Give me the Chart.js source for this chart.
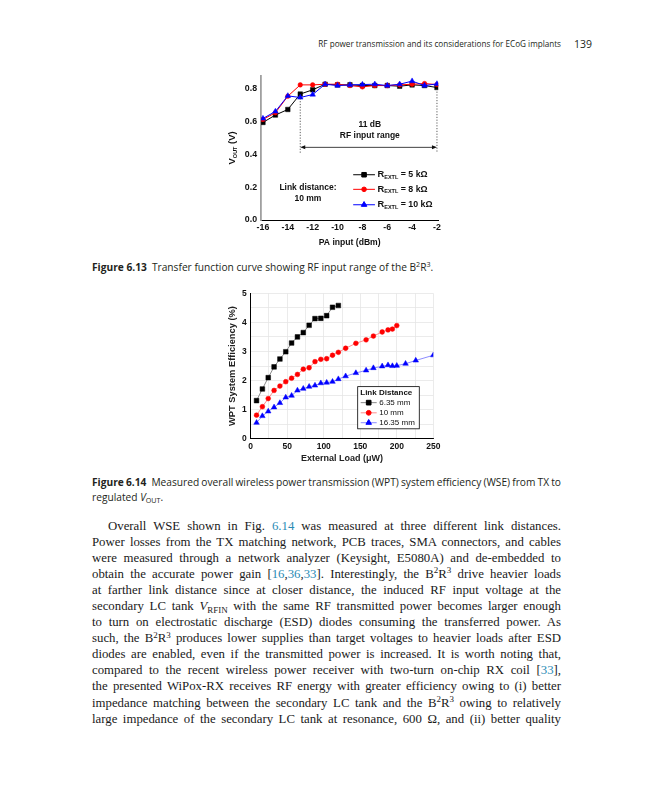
<!DOCTYPE html>
<html>
<head>
<meta charset="utf-8">
<title>Figures 6.13 and 6.14</title>
<script src="https://cdn.jsdelivr.net/npm/chart.js@4.4.1/dist/chart.umd.min.js"></script>
<style>
  html, body { margin: 0; padding: 0; background: #fff; }
  body { width: 648px; height: 800px; position: relative; overflow: hidden; color: #231f20; }
  canvas { position: absolute; }
  #c1 { left: 205px; top: 66px; }
  #c2 { left: 205px; top: 282px; }
  .sans { font-family: "Open Sans", sans-serif; }
  #hdrTitle { position: absolute; right: 87px; top: 37px; font-size: 10px; line-height: 14px; white-space: nowrap; }
  #pg { position: absolute; right: 56px; top: 37px; font-size: 10.5px; line-height: 14px; }
  .cap { position: absolute; left: 92px; font-size: 10px; line-height: 15px; white-space: nowrap; }
  .cap b { font-weight: 700; }
  #body { position: absolute; left: 92px; top: 517.7px; width: 469px; font-family: "Liberation Serif", serif; font-size: 12.8px; line-height: 16.08px; color: #1a1a1a; }
  .ln { white-space: nowrap; height: 16.08px; }
  .ln.first { padding-left: 16px; }
  .ref { color: #2a8bb5; }
  sup, sub { font-size: 70%; vertical-align: baseline; position: relative; line-height: 0; }
  sup { top: -0.5em; }
  sub { top: 0.3em; }
</style>
</head>
<body>
<div id="hdrTitle" class="sans">RF power transmission and its considerations for ECoG implants</div>
<div id="pg" class="sans">139</div>

<canvas id="c1" width="245" height="190"></canvas>
<div class="cap sans" id="cap13" style="top:259.5px"><b>Figure 6.13</b>&ensp;Transfer function curve showing RF input range of the B<sup>2</sup>R<sup>3</sup>.</div>

<canvas id="c2" width="245" height="185"></canvas>
<div class="cap sans" id="cap14a" style="top:474.5px"><b>Figure 6.14</b>&ensp;Measured overall wireless power transmission (WPT) system efficiency (WSE) from TX to</div>
<div class="cap sans" id="cap14b" style="top:489.5px">regulated <i>V</i><sub>OUT</sub>.</div>

<div id="body">
  <div class="ln first"><span class="t">Overall WSE shown in Fig. <span class="ref">6.14</span> was measured at three different link distances.</span></div>
  <div class="ln"><span class="t">Power losses from the TX matching network, PCB traces, SMA connectors, and cables</span></div>
  <div class="ln"><span class="t">were measured through a network analyzer (Keysight, E5080A) and de-embedded to</span></div>
  <div class="ln"><span class="t">obtain the accurate power gain [<span class="ref">16</span>,<span class="ref">36</span>,<span class="ref">33</span>]. Interestingly, the B<sup>2</sup>R<sup>3</sup> drive heavier loads</span></div>
  <div class="ln"><span class="t">at farther link distance since at closer distance, the induced RF input voltage at the</span></div>
  <div class="ln"><span class="t">secondary LC tank <i>V</i><sub>RFIN</sub> with the same RF transmitted power becomes larger enough</span></div>
  <div class="ln"><span class="t">to turn on electrostatic discharge (ESD) diodes consuming the transferred power. As</span></div>
  <div class="ln"><span class="t">such, the B<sup>2</sup>R<sup>3</sup> produces lower supplies than target voltages to heavier loads after ESD</span></div>
  <div class="ln"><span class="t">diodes are enabled, even if the transmitted power is increased. It is worth noting that,</span></div>
  <div class="ln"><span class="t">compared to the recent wireless power receiver with two-turn on-chip RX coil [<span class="ref">33</span>],</span></div>
  <div class="ln"><span class="t">the presented WiPox-RX receives RF energy with greater efficiency owing to (i) better</span></div>
  <div class="ln"><span class="t">impedance matching between the secondary LC tank and the B<sup>2</sup>R<sup>3</sup> owing to relatively</span></div>
  <div class="ln"><span class="t">large impedance of the secondary LC tank at resonance, 600 Ω, and (ii) better quality</span></div>
</div>

<script>
// Figure 6.13 - transfer function
const paInput = [-16, -15, -14, -13, -12, -11, -10, -9, -8, -7, -6, -5, -4, -3, -2];
const vout5k  = [0.595, 0.640, 0.674, 0.768, 0.794, 0.828, 0.824, 0.824, 0.820, 0.820, 0.820, 0.816, 0.824, 0.820, 0.808];
const vout8k  = [0.613, 0.654, 0.755, 0.824, 0.824, 0.828, 0.828, 0.820, 0.812, 0.820, 0.820, 0.824, 0.828, 0.832, 0.826];
const vout10k = [0.619, 0.662, 0.757, 0.747, 0.765, 0.828, 0.820, 0.824, 0.826, 0.828, 0.820, 0.828, 0.847, 0.820, 0.830];
const paTicks = [-16, -14, -12, -10, -8, -6, -4, -2];
const voutTicks = [0, 0.2, 0.4, 0.6, 0.8];
const rangeEdges = [-13, -2];

// Figure 6.14 - system efficiency
const load635  = [8, 16, 24, 32, 40, 48, 56, 64, 72, 80, 88, 96, 104, 112, 120];
const eff635   = [1.31, 1.71, 2.10, 2.47, 2.74, 2.99, 3.29, 3.50, 3.65, 3.90, 4.13, 4.14, 4.23, 4.52, 4.58];
const load10   = [8, 16, 24, 32, 40, 48, 56, 64, 72, 80, 88, 96, 104, 112, 120, 130, 144, 158, 168, 180, 188, 194, 200];
const eff10    = [0.81, 1.10, 1.38, 1.66, 1.81, 1.96, 2.08, 2.21, 2.39, 2.44, 2.65, 2.73, 2.75, 2.87, 2.97, 3.11, 3.28, 3.40, 3.53, 3.67, 3.74, 3.77, 3.89];
const load1635 = [8, 16, 24, 32, 40, 48, 56, 64, 72, 80, 88, 96, 104, 112, 120, 130, 144, 158, 168, 180, 188, 194, 200, 212, 226, 250];
const eff1635  = [0.55, 0.78, 0.94, 1.08, 1.23, 1.42, 1.48, 1.66, 1.72, 1.79, 1.83, 1.91, 1.93, 1.96, 2.05, 2.15, 2.26, 2.35, 2.43, 2.49, 2.53, 2.50, 2.51, 2.58, 2.69, 2.87];
const loadTicks = [0, 25, 50, 75, 100, 125, 150, 175, 200, 225, 250];
const effTicks  = [0, 0.5, 1, 1.5, 2, 2.5, 3, 3.5, 4, 4.5, 5];

const pts = (xs, ys) => xs.map((x, i) => ({ x: x, y: ys[i] }));
const arial = (size, weight) => ({ family: 'Liberation Sans', size: size, weight: weight || 'bold' });

// text with sub-scripts, parts = [text, size, dy]
function richText(ctx, parts, x, y, align) {
  let total = 0;
  parts.forEach(p => { ctx.font = 'bold ' + p[1] + 'px "Liberation Sans"'; total += ctx.measureText(p[0]).width; });
  let cx = align === 'center' ? x - total / 2 : x;
  ctx.textAlign = 'left';
  parts.forEach(p => {
    ctx.font = 'bold ' + p[1] + 'px "Liberation Sans"';
    ctx.fillText(p[0], cx, y + (p[2] || 0));
    cx += ctx.measureText(p[0]).width;
  });
}

function drawKey(ctx, ds, x1, x2, y, lineColor) {
  ctx.strokeStyle = lineColor;
  ctx.lineWidth = 1;
  ctx.beginPath(); ctx.moveTo(x1, y); ctx.lineTo(x2, y); ctx.stroke();
  ctx.fillStyle = ds.pointBackgroundColor;
  ctx.strokeStyle = ds.pointBackgroundColor;
  Chart.helpers.drawPoint(ctx, { pointStyle: ds.pointStyle, radius: ds.pointRadius, rotation: 0, borderWidth: 0.5 }, (x1 + x2) / 2, y);
}

const fig13Notes = {
  id: 'fig13Notes',
  afterDatasetsDraw(chart) {
    const { ctx, chartArea, scales: { x, y } } = chart;
    const ds = chart.data.datasets;
    ctx.save();
    ctx.textBaseline = 'middle';
    ctx.fillStyle = '#111';

    // dotted edges of the input range and the arrow between them
    ctx.strokeStyle = '#333';
    ctx.lineWidth = 0.8;
    ctx.setLineDash([1.2, 1.6]);
    [[rangeEdges[0], 0.742], [rangeEdges[1], 0.80]].forEach(e => {
      const px = x.getPixelForValue(e[0]);
      ctx.beginPath(); ctx.moveTo(px, y.getPixelForValue(e[1])); ctx.lineTo(px, y.getPixelForValue(0.41)); ctx.stroke();
    });
    ctx.setLineDash([]);
    const ay = y.getPixelForValue(0.443);
    const a1 = x.getPixelForValue(rangeEdges[0]), a2 = x.getPixelForValue(rangeEdges[1]);
    ctx.strokeStyle = '#111';
    ctx.beginPath(); ctx.moveTo(a1 + 2, ay); ctx.lineTo(a2 - 2, ay); ctx.stroke();
    ctx.beginPath();
    ctx.moveTo(a1, ay); ctx.lineTo(a1 + 5, ay - 2); ctx.lineTo(a1 + 5, ay + 2); ctx.closePath();
    ctx.moveTo(a2, ay); ctx.lineTo(a2 - 5, ay - 2); ctx.lineTo(a2 - 5, ay + 2); ctx.closePath();
    ctx.fill();

    ctx.font = 'bold 8.5px "Liberation Sans"';
    ctx.textAlign = 'center';
    ctx.fillText('11 dB', x.getPixelForValue(-7.4), y.getPixelForValue(0.58));
    ctx.fillText('RF input range', x.getPixelForValue(-7.4), y.getPixelForValue(0.513));
    ctx.fillText('Link distance:', x.getPixelForValue(-12.38), y.getPixelForValue(0.195));
    ctx.fillText('10 mm', x.getPixelForValue(-12.38), y.getPixelForValue(0.133));

    // legend
    const rows = [0.276, 0.187, 0.093];
    const values = [' = 5 kΩ', ' = 8 kΩ', ' = 10 kΩ'];
    ds.forEach((d, i) => {
      const ry = y.getPixelForValue(rows[i]);
      drawKey(ctx, d, x.getPixelForValue(-8.74), x.getPixelForValue(-6.99), ry, d.borderColor);
      ctx.fillStyle = '#111';
      richText(ctx, [['R', 9.3], ['EXTL', 5.5, 2.6], [values[i], 8.8]], x.getPixelForValue(-6.78), ry, 'left');
    });

    // y axis title with subscript
    ctx.translate(chartArea.left - 28.4, (chartArea.top + chartArea.bottom) / 2);
    ctx.rotate(-Math.PI / 2);
    ctx.fillStyle = '#111';
    richText(ctx, [['V', 9.5], ['OUT', 5.5, 2.8], [' (V)', 9.5]], 0, 0, 'center');
    ctx.restore();
  }
};

new Chart(document.getElementById('c1'), {
  type: 'line',
  data: {
    datasets: [
      { label: '5 kΩ', data: pts(paInput, vout5k), borderColor: '#000', pointBackgroundColor: '#000', pointBorderColor: '#000', pointStyle: 'rect', pointRadius: 3.2, order: 2 },
      { label: '8 kΩ', data: pts(paInput, vout8k), borderColor: '#ff0000', pointBackgroundColor: '#ff0000', pointBorderColor: '#ff0000', pointStyle: 'circle', pointRadius: 2.3, order: 1 },
      { label: '10 kΩ', data: pts(paInput, vout10k), borderColor: '#0000ff', pointBackgroundColor: '#0000ff', pointBorderColor: '#0000ff', pointStyle: 'triangle', pointRadius: 3.2, order: 0 }
    ]
  },
  options: {
    responsive: false,
    animation: false,
    devicePixelRatio: 1,
    layout: { padding: { top: 9.7, right: 11.8 } },
    elements: { line: { borderWidth: 1, tension: 0 }, point: { borderWidth: 0.5 } },
    plugins: { legend: { display: false }, tooltip: { enabled: false } },
    scales: {
      x: {
        type: 'linear', min: -16.15, max: -1.9,
        afterBuildTicks: s => { s.ticks = paTicks.map(v => ({ value: v })); },
        afterFit: s => { s.height = 36; },
        grid: { display: false, drawTicks: false },
        border: { color: '#000', width: 1 },
        ticks: { font: arial(8.8), color: '#111', padding: 2, maxRotation: 0, autoSkip: false },
        title: { display: true, text: 'PA input (dBm)', font: arial(8.6), color: '#111', padding: { top: 0, bottom: 8 } }
      },
      y: {
        type: 'linear', min: 0, max: 0.88,
        afterBuildTicks: s => { s.ticks = voutTicks.map(v => ({ value: v })); },
        afterFit: s => { s.width = 56.1; },
        grid: { display: false, drawTicks: false },
        border: { color: '#a0a0a0', width: 1.8 },
        ticks: { font: arial(8.8), color: '#111', padding: 4, autoSkip: false, callback: v => Number(v).toFixed(1) }
      }
    }
  },
  plugins: [fig13Notes]
});

const fig14Legend = {
  id: 'fig14Legend',
  afterDatasetsDraw(chart) {
    const { ctx, scales: { x, y } } = chart;
    const ds = chart.data.datasets;
    ctx.save();
    const bx1 = x.getPixelForValue(146.5), bx2 = x.getPixelForValue(230.8);
    const by1 = y.getPixelForValue(1.79), by2 = y.getPixelForValue(0.34);
    ctx.fillStyle = '#fff';
    ctx.fillRect(bx1, by1, bx2 - bx1, by2 - by1);
    ctx.strokeStyle = '#000';
    ctx.lineWidth = 0.8;
    ctx.strokeRect(bx1, by1, bx2 - bx1, by2 - by1);
    ctx.textBaseline = 'middle';
    ctx.textAlign = 'left';
    ctx.fillStyle = '#111';
    ctx.font = 'bold 8px "Liberation Sans"';
    ctx.fillText('Link Distance', x.getPixelForValue(150), y.getPixelForValue(1.58));
    const rows = [1.24, 0.89, 0.55];
    ds.forEach((d, i) => {
      const ry = y.getPixelForValue(rows[i]);
      drawKey(ctx, d, x.getPixelForValue(150.6), x.getPixelForValue(172.5), ry, d.borderColor);
      ctx.fillStyle = '#111';
      ctx.font = '8px "Liberation Sans"';
      ctx.fillText(d.label, x.getPixelForValue(176), ry);
    });
    ctx.restore();
  }
};

new Chart(document.getElementById('c2'), {
  type: 'line',
  data: {
    datasets: [
      { label: '6.35 mm', data: pts(load635, eff635), borderColor: '#8a8a8a', pointBackgroundColor: '#000', pointBorderColor: '#000', pointStyle: 'rect', pointRadius: 3.3 },
      { label: '10 mm', data: pts(load10, eff10), borderColor: '#ff8c8c', pointBackgroundColor: '#ff0000', pointBorderColor: '#ff0000', pointStyle: 'circle', pointRadius: 2.4 },
      { label: '16.35 mm', data: pts(load1635, eff1635), borderColor: '#8c8cff', pointBackgroundColor: '#0000ff', pointBorderColor: '#0000ff', pointStyle: 'triangle', pointRadius: 3.2 }
    ]
  },
  options: {
    responsive: false,
    animation: false,
    devicePixelRatio: 1,
    layout: { padding: { top: 11.3, right: 16.7 } },
    elements: { line: { borderWidth: 1, tension: 0 }, point: { borderWidth: 0.5 } },
    plugins: { legend: { display: false }, tooltip: { enabled: false } },
    scales: {
      x: {
        type: 'linear', min: 0, max: 250,
        afterBuildTicks: s => { s.ticks = loadTicks.map(v => ({ value: v })); },
        afterFit: s => { s.height = 28.3; },
        grid: { color: '#e6e6e6', lineWidth: 0.8, drawTicks: false },
        border: { color: '#000', width: 1 },
        ticks: { font: arial(8.5), color: '#111', padding: 3, maxRotation: 0, autoSkip: false, callback: v => (v % 50 === 0 ? v : '') },
        title: { display: true, text: 'External Load (μW)', font: arial(9, 'bold'), color: '#222', padding: { top: 0, bottom: 3.3 } }
      },
      y: {
        type: 'linear', min: 0, max: 5,
        afterBuildTicks: s => { s.ticks = effTicks.map(v => ({ value: v })); },
        afterFit: s => { s.width = 45.7; },
        grid: { color: '#e6e6e6', lineWidth: 0.8, drawTicks: false },
        border: { color: '#000', width: 1 },
        ticks: { font: arial(8.5), color: '#111', padding: 4, autoSkip: false, callback: v => (Number.isInteger(v) ? v : '') },
        title: { display: true, text: 'WPT System Efficiency (%)', font: arial(9.3, 'bold'), color: '#222', padding: { top: 22.3, bottom: 0 } }
      }
    }
  },
  plugins: [fig14Legend]
});

// fit the printed text to the widths of the page
function fittedSize(el, target) {
  const w = el.getBoundingClientRect().width;
  return parseFloat(getComputedStyle(el).fontSize) * target / w;
}
function justify(el, target) {
  const gaps = (el.textContent.match(/ /g) || []).length;
  const w = el.getBoundingClientRect().width;
  el.style.wordSpacing = ((target - w) / gaps) + 'px';
}
const hdr = document.getElementById('hdrTitle');
hdr.style.fontSize = fittedSize(hdr, 243) + 'px';
const capSize = fittedSize(document.getElementById('cap13'), 342);
document.querySelectorAll('.cap').forEach(c => { c.style.fontSize = capSize + 'px'; });
justify(document.getElementById('cap14a'), 469);
document.querySelectorAll('.ln').forEach(ln => {
  justify(ln.querySelector('span.t'), ln.classList.contains('first') ? 453 : 469);
});
</script>
</body>
</html>
